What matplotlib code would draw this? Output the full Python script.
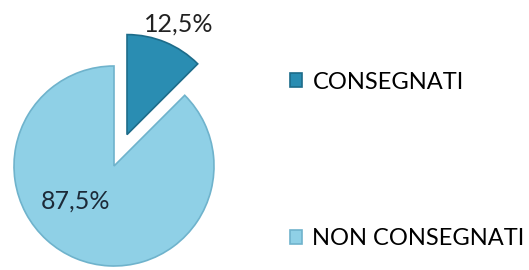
import matplotlib
matplotlib.use("Agg")
import matplotlib.pyplot as plt

labels = ["CONSEGNATI", "NON CONSEGNATI"]
values = [12.5, 87.5]
colors = ["#2a8db2", "#8fd0e6"]
edges = ["#1d6c8a", "#6fb3cc"]

plt.rcParams["font.family"] = ["Lato", "DejaVu Sans"]

fig = plt.figure(figsize=(5.29, 2.70), dpi=100)
ax = fig.add_axes([0, 0, 1, 1])

wedges, _ = ax.pie(values, startangle=90, counterclock=False,
                   center=(114, 104), radius=100, explode=[34, 0],
                   colors=colors, frame=True)
for w, ec in zip(wedges, edges):
    w.set_edgecolor(ec)
    w.set_linewidth(1.2)

ax.set_xlim(0, 529)
ax.set_ylim(0, 270)
ax.set_aspect("equal")
ax.axis("off")

def pct(v):
    return f"{v:.1f}%".replace(".", ",")

ax.text(179, 246, pct(values[0]), ha="center", va="center",
        fontsize=18, color="#222222")
ax.text(75, 69, pct(values[1]), ha="center", va="center",
        fontsize=18, color="#1c2a38")

fig.legend(wedges, labels, loc="upper left", bbox_to_anchor=(290 / 529, 0.735),
           frameon=False, fontsize=17, labelspacing=5.75, borderpad=0,
           borderaxespad=0, handlelength=0.5, handleheight=0.5,
           handletextpad=0.45)

fig.savefig("out.png", dpi=100)
